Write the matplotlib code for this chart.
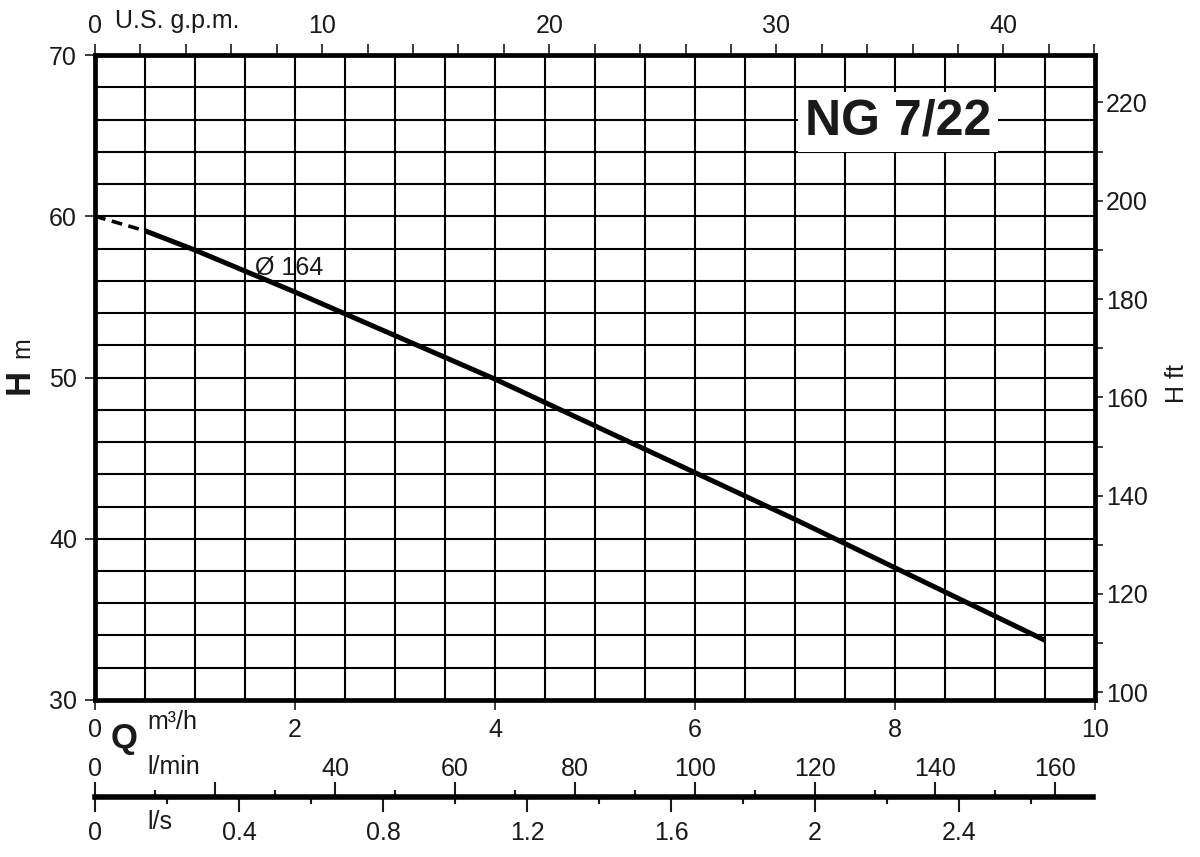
import numpy as np
import matplotlib
matplotlib.use('Agg')
from matplotlib import pyplot as plt
from matplotlib.ticker import MultipleLocator, FixedLocator, FixedFormatter

plt.rcParams['font.family'] = ['Liberation Sans', 'DejaVu Sans']
plt.rcParams['text.color'] = '#1a1a1a'
plt.rcParams['xtick.color'] = '#1a1a1a'
plt.rcParams['ytick.color'] = '#1a1a1a'

# pump curve NG 7/22, impeller 164 mm (Q in m3/h, H in m)
q_dash = [0.0, 0.5]
h_dash = [60.0, 59.1]
q_curve = [0.5, 1, 2, 3, 4, 5, 6, 7, 8, 9, 9.5]
h_curve = [59.1, 57.9, 55.3, 52.6, 49.9, 47.0, 44.1, 41.2, 38.2, 35.2, 33.7]

m_ticks = [30, 40, 50, 60, 70]
q_ticks = [0, 2, 4, 6, 8, 10]
gpm_ticks = [0, 10, 20, 30, 40]
ft_ticks = [100, 120, 140, 160, 180, 200, 220]
lmin_ticks = [0, 20, 40, 60, 80, 100, 120, 140, 160]
lmin_labels = ['0', '', '40', '60', '80', '100', '120', '140', '160']
ls_ticks = [0, 0.4, 0.8, 1.2, 1.6, 2.0, 2.4]
ls_labels = ['0', '0.4', '0.8', '1.2', '1.6', '2', '2.4']

FS = 18

fig = plt.figure(figsize=(12, 8.57), dpi=100)
ax = fig.add_axes([0.0792, 0.1832, 0.8333, 0.7526])

ax.plot(q_dash, h_dash, color='black', lw=2.6, ls=(0, (3, 1.8)), solid_capstyle='butt')
ax.plot(q_curve, h_curve, color='black', lw=3.6, solid_capstyle='butt')
ax.text(1.6, 56.8, 'Ø 164', fontsize=FS, va='center', ha='left')

ax.set_xlim(0, 10)
ax.set_ylim(30, 70)
ax.set_xticks(q_ticks)
ax.set_yticks(m_ticks)
ax.xaxis.set_minor_locator(MultipleLocator(0.5))
ax.yaxis.set_minor_locator(MultipleLocator(2))
ax.grid(which='both', color='black', lw=1.5)
ax.tick_params(which='minor', length=0)
ax.tick_params(which='major', length=7, width=1.2, labelsize=FS, pad=6)
for s in ax.spines.values():
    s.set_linewidth(3.4)

ax.text(8.03, 65.85, 'NG 7/22', fontsize=36, fontweight='bold', ha='center', va='center',
        bbox=dict(facecolor='white', edgecolor='none', pad=5), zorder=5)

# top axis: U.S. g.p.m.
gpm = ax.secondary_xaxis('top', functions=(lambda q: q * 4.4029, lambda g: g / 4.4029))
gpm.set_xticks(gpm_ticks)
gpm.xaxis.set_minor_locator(MultipleLocator(2))
gpm.tick_params(which='both', length=8, width=1.2, labelsize=FS, pad=4)
gpm.spines['top'].set_visible(False)
fig.text(0.096, 0.975, 'U.S. g.p.m.', fontsize=FS, ha='left', va='center')

# right axis: H ft
hft = ax.secondary_yaxis('right', functions=(lambda m: m * 3.2808, lambda f: f / 3.2808))
hft.set_yticks(ft_ticks)
hft.yaxis.set_minor_locator(MultipleLocator(10))
hft.tick_params(which='both', length=6, width=1.2, labelsize=FS, pad=2)
hft.spines['right'].set_visible(False)
fig.text(0.981, 0.553, 'H ft', fontsize=FS, rotation=90, ha='center', va='center')

# left label and Q
fig.text(0.016, 0.555, 'H', fontsize=25, fontweight='bold', rotation=90, ha='center', va='center')
fig.text(0.019, 0.594, 'm', fontsize=18, rotation=90, ha='center', va='center')
fig.text(0.092, 0.138, 'Q', fontsize=25, fontweight='bold', ha='left', va='center')
fig.text(0.123, 0.157, 'm³/h', fontsize=FS, ha='left', va='center')

# l/min and l/s scale
ax2 = fig.add_axes([0.0792, 0.0695, 0.8318, 0.0001])
ax2.set_xlim(0, 10 * 0.8318 / 0.8333)
ax2.set_xticks([])
ax2.set_yticks([])
for k in ['top', 'left', 'right']:
    ax2.spines[k].set_visible(False)
ax2.spines['bottom'].set_linewidth(4)

lmin = ax2.secondary_xaxis('top', functions=(lambda q: q * 1000 / 60, lambda l: l * 60 / 1000))
lmin.xaxis.set_major_locator(FixedLocator(lmin_ticks))
lmin.xaxis.set_major_formatter(FixedFormatter(lmin_labels))
lmin.xaxis.set_minor_locator(FixedLocator(list(range(10, 160, 20))))
lmin.tick_params(which='major', length=11, width=1.5, labelsize=FS, pad=1)
lmin.tick_params(which='minor', length=5, width=1.5)
lmin.spines['top'].set_visible(False)

ls = ax2.secondary_xaxis('bottom', functions=(lambda q: q / 3.6, lambda s: s * 3.6))
ls.xaxis.set_major_locator(FixedLocator(ls_ticks))
ls.xaxis.set_major_formatter(FixedFormatter(ls_labels))
ls.xaxis.set_minor_locator(FixedLocator([0.2, 0.6, 1.0, 1.4, 1.8, 2.2, 2.6]))
ls.tick_params(which='major', length=11, width=1.5, labelsize=FS, pad=6)
ls.tick_params(which='minor', length=5, width=1.5)
ls.spines['bottom'].set_visible(False)

fig.text(0.123, 0.105, 'l/min', fontsize=FS, ha='left', va='center')
fig.text(0.123, 0.041, 'l/s', fontsize=FS, ha='left', va='center')

fig.savefig('out.png', dpi=100, facecolor='white')
